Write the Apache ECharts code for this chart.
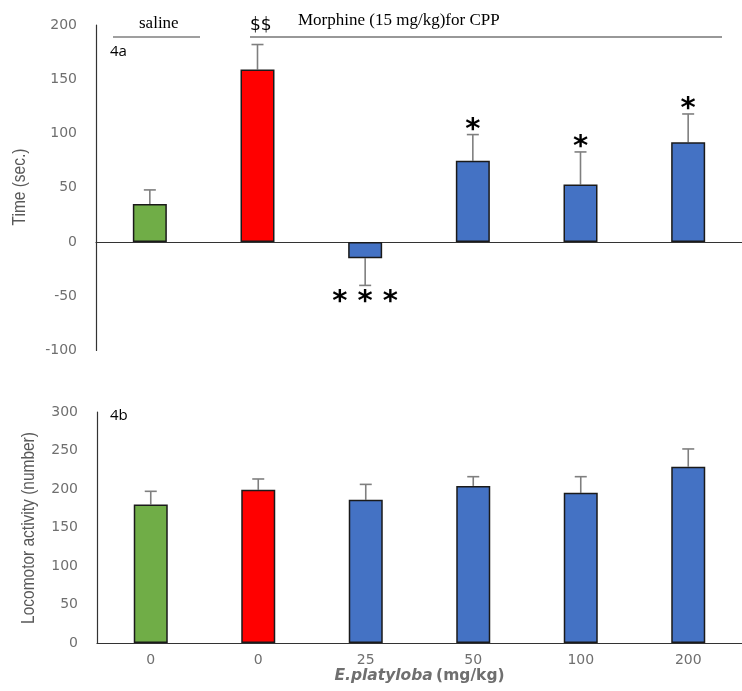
<!DOCTYPE html>
<html>
<head>
<meta charset="utf-8">
<script src="https://cdn.jsdelivr.net/npm/echarts@6/dist/echarts.min.js"></script>
<style>
  html, body { margin: 0; padding: 0; background: #fff; }
  #main { width: 742px; height: 691px; }
</style>
</head>
<body>
<div id="main"></div>
<script>
// dose groups (x axis)
var doses = ['0', '0', '25', '50', '100', '200']
// 4a: CPP time (sec.)
var cppMean = [35, 159, -15, 75, 53, 92]
var cppSem = [13, 23, 25, 24, 30, 26]
var cppMarks = ['', '', '* * *', '*', '*', '*']
// 4b: locomotor activity
var locoMean = [180, 199, 186, 204, 195, 229]
var locoSem = [17, 14, 20, 12, 21, 23]

var barColors = ['#70AD47', '#FF0000', '#4472C4', '#4472C4', '#4472C4', '#4472C4']
var tickFont = { color: '#6f6f6f', fontSize: 14, fontFamily: 'DejaVu Sans' }

function errorBars(marks) {
  return function(params, api) {
    var i = api.value(0)
    var m = api.value(1)
    var s = api.value(2)
    var end = m >= 0 ? m + s : m - s
    var p0 = api.coord([i, m])
    var p1 = api.coord([i, end])
    var st = { stroke: '#7f7f7f', lineWidth: 1.6 }
    var kids = [
      { type: 'line', shape: { x1: p0[0], y1: p0[1], x2: p1[0], y2: p1[1] }, style: st },
      { type: 'line', shape: { x1: p1[0] - 6, y1: p1[1], x2: p1[0] + 6, y2: p1[1] }, style: st }
    ]
    var mk = marks ? marks[i] : ''
    if (mk) {
      kids.push({
        type: 'text',
        style: {
          text: mk,
          x: p1[0],
          y: m >= 0 ? p1[1] + 10 : p1[1] + 32,
          align: 'center',
          verticalAlign: 'bottom',
          fill: '#000',
          font: 'bold 29px "DejaVu Sans"'
        }
      })
    }
    return { type: 'group', children: kids }
  }
}

function bars(vals, idx) {
  return {
    type: 'bar',
    xAxisIndex: idx,
    yAxisIndex: idx,
    barWidth: 34,
    data: vals.map(function(v, i) {
      return { value: v, itemStyle: { color: barColors[i] } }
    }),
    itemStyle: { borderColor: '#1a1a1a', borderWidth: 1.5 },
    silent: true
  }
}

var myChart = echarts.init(document.getElementById('main'))
myChart.setOption({
  animation: false,
  grid: [
    { left: 96, right: -10, top: 25, height: 325.5 },
    { left: 97, right: -10, top: 412, height: 231 }
  ],
  xAxis: [
    {
      type: 'category', gridIndex: 0, data: doses,
      axisLine: { onZero: true, lineStyle: { color: '#333', width: 1.2 } },
      axisTick: { show: false }, axisLabel: { show: false }
    },
    {
      type: 'category', gridIndex: 1, data: doses,
      axisLine: { lineStyle: { color: '#333', width: 1.2 } },
      axisTick: { show: false },
      axisLabel: Object.assign({ margin: 10 }, tickFont),
      name: '{i|E.platyloba} {b|(mg/kg)}',
      nameLocation: 'middle',
      nameGap: 21,
      nameTextStyle: {
        rich: {
          i: { fontStyle: 'italic', fontWeight: 'bold', fontSize: 15.5, color: '#6f6f6f', fontFamily: 'DejaVu Sans' },
          b: { fontWeight: 'bold', fontSize: 15.5, color: '#6f6f6f', fontFamily: 'DejaVu Sans' }
        }
      }
    }
  ],
  yAxis: [
    {
      type: 'value', gridIndex: 0, min: -100, max: 200, interval: 50,
      splitLine: { show: false },
      axisLine: { show: true, lineStyle: { color: '#333', width: 1.2 } },
      axisTick: { show: false },
      axisLabel: Object.assign({ margin: 19 }, tickFont)
    },
    {
      type: 'value', gridIndex: 1, min: 0, max: 300, interval: 50,
      splitLine: { show: false },
      axisLine: { show: true, lineStyle: { color: '#333', width: 1.2 } },
      axisTick: { show: false },
      axisLabel: Object.assign({ margin: 19 }, tickFont)
    }
  ],
  series: [
    bars(cppMean, 0),
    bars(locoMean, 1),
    {
      type: 'custom', xAxisIndex: 0, yAxisIndex: 0, silent: true,
      renderItem: errorBars(cppMarks),
      data: cppMean.map(function(m, i) { return [i, m, cppSem[i]] })
    },
    {
      type: 'custom', xAxisIndex: 1, yAxisIndex: 1, silent: true,
      renderItem: errorBars(null),
      data: locoMean.map(function(m, i) { return [i, m, locoSem[i]] })
    }
  ],
  graphic: [
    // y axis titles (narrow font look)
    {
      type: 'text', x: 20, y: 187, rotation: Math.PI / 2, scaleX: 0.86,
      style: { text: 'Time (sec.)', font: '18px "Liberation Sans"', fill: '#595959', align: 'center', verticalAlign: 'middle' }
    },
    {
      type: 'text', x: 29, y: 528, rotation: Math.PI / 2, scaleX: 0.86,
      style: { text: 'Locomotor activity (number)', font: '18px "Liberation Sans"', fill: '#595959', align: 'center', verticalAlign: 'middle' }
    },
    { type: 'text', left: 139, top: 15, style: { text: 'saline', font: '17px "Liberation Serif"', fill: '#000' } },
    { type: 'line', shape: { x1: 113, y1: 37, x2: 200, y2: 37 }, style: { stroke: '#7f7f7f', lineWidth: 1.5 } },
    { type: 'text', left: 250, top: 17, style: { text: '$$', font: '17px "DejaVu Sans"', fill: '#000' } },
    { type: 'text', left: 298, top: 12, style: { text: 'Morphine (15 mg/kg)for CPP', font: '17px "Liberation Serif"', fill: '#000' } },
    { type: 'line', shape: { x1: 250, y1: 37, x2: 722, y2: 37 }, style: { stroke: '#333', lineWidth: 1.2 } },
    { type: 'text', left: 110, top: 44, style: { text: '4a', font: '15px "Open Sans"', fill: '#000' } },
    { type: 'text', left: 110, top: 408, style: { text: '4b', font: '15px "Open Sans"', fill: '#000' } }
  ]
})
</script>
</body>
</html>
